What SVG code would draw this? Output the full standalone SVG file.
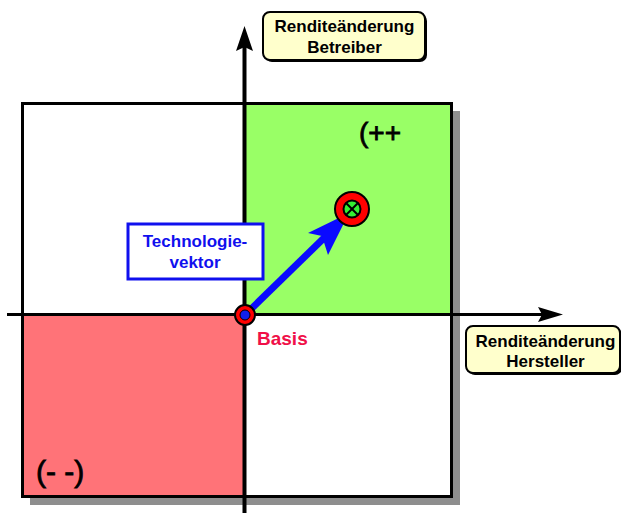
<svg xmlns="http://www.w3.org/2000/svg" width="621" height="513" viewBox="0 0 621 513">
<style>
.lbl{font-family:"Liberation Sans",Arial,sans-serif;font-weight:bold;font-size:17px;fill:#000;text-anchor:middle}
.tv{font-family:"Liberation Sans",Arial,sans-serif;font-weight:bold;font-size:17px;fill:#1010ee;text-anchor:middle}
.big{font-family:"Liberation Sans",Arial,sans-serif;font-weight:normal;fill:#000;stroke:#000;stroke-width:0.8}
.box{fill:#ffffcc;stroke:#000;stroke-width:2}
</style>
<rect width="621" height="513" fill="#fff"/>
<g id="field">
<rect x="30" y="111" width="430" height="394" fill="#8e8e8e"/>
<rect x="22.5" y="103.5" width="429" height="393" fill="#fff"/>
<rect x="244.5" y="103.5" width="207" height="211" fill="#99ff66"/>
<rect x="22.5" y="314.5" width="222" height="182" fill="#ff7378"/>
<rect x="22.5" y="103.5" width="429" height="393" fill="none" stroke="#000" stroke-width="3"/>
</g>
<g id="connectors">
<line x1="244.5" y1="46" x2="244.5" y2="513" stroke="#000" stroke-width="4"/>
<polygon points="244.5,26 253,51 244.5,47 236,51" fill="#000"/>
<line x1="7" y1="314.5" x2="545" y2="314.5" stroke="#000" stroke-width="3"/>
<polygon points="563,314.5 538,307 542,314.5 538,322" fill="#000"/>
<line x1="245" y1="315" x2="326" y2="236" stroke="#0a0aff" stroke-width="7"/>
<polygon points="349,213 308,233 322,236 328,255" fill="#0a0aff"/>
</g>
<g id="basis">
<circle cx="245" cy="315" r="10" fill="#ff0000" stroke="#000" stroke-width="2"/>
<circle cx="245" cy="315" r="5" fill="#1020ee" stroke="#000" stroke-width="1"/>
</g>
<g id="ziel">
<circle cx="352" cy="209" r="17" fill="#ff0000" stroke="#000" stroke-width="2"/>
<circle cx="352" cy="209" r="8.5" fill="#33ee33" stroke="#000" stroke-width="2"/>
<line x1="346" y1="203" x2="358" y2="215" stroke="#000" stroke-width="2"/>
<line x1="358" y1="203" x2="346" y2="215" stroke="#000" stroke-width="2"/>
</g>
<g id="label-betreiber">
<rect x="265" y="14" width="162" height="48" rx="7" fill="#000"/>
<rect x="263" y="12" width="162" height="48" rx="7" class="box"/>
<text x="344.5" y="32" class="lbl">Renditeänderung</text>
<text x="344.5" y="53" class="lbl">Betreiber</text>
</g>
<g id="label-hersteller">
<rect x="468" y="328" width="154" height="47" rx="7" fill="#000"/>
<rect x="466" y="326" width="154" height="47" rx="7" class="box"/>
<text x="545.5" y="347" class="lbl">Renditeänderung</text>
<text x="545.5" y="367" class="lbl">Hersteller</text>
</g>
<g id="label-technologievektor">
<rect x="128" y="224" width="135" height="55" fill="#fff" stroke="#1010ee" stroke-width="3"/>
<text x="195" y="247" class="tv">Technologie-</text>
<text x="195" y="268" class="tv">vektor</text>
</g>
<g id="label-basis">
<text x="257" y="345" font-family="Liberation Sans,Arial,sans-serif" font-weight="bold" font-size="19" fill="#f01048">Basis</text>
</g>
<g id="label-pp">
<text x="359" y="142" class="big" font-size="28">(++</text>
</g>
<g id="label-mm">
<text x="36" y="482" class="big" font-size="30">(- -)</text>
</g>
</svg>
